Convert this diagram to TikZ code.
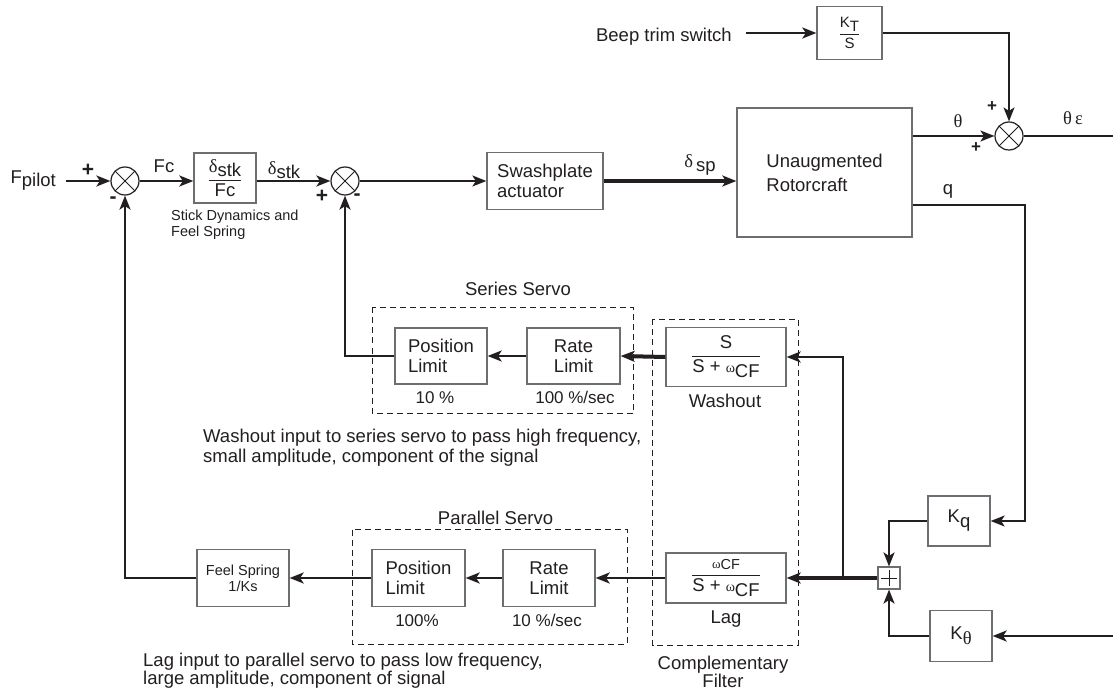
\documentclass[tikz,border=0pt]{standalone}
\usepackage{fontspec}
\usepackage{amsmath}
\setmainfont{Liberation Sans}
\newfontfamily\grk{Liberation Serif}
\usetikzlibrary{arrows.meta,calc}
\definecolor{ink}{HTML}{231F20}
\definecolor{boxgray}{HTML}{6D6E71}
\newcommand\szL{\fontsize{18.5}{20}\selectfont}
\newcommand\szM{\fontsize{17}{19}\selectfont}
\newcommand\szS{\fontsize{14.5}{16}\selectfont}
\newcommand\szG{\fontsize{14}{14}\selectfont}
\newcommand\myfr[2]{$\genfrac{}{}{1pt}{0}{\text{#1}}{\text{#2}}$}
\tikzset{
  box/.style={draw=boxgray, line width=1.3pt, inner sep=0pt, text=ink, font=\szL},
  sumx/.style={circle, draw=ink, line width=1.2pt, minimum size=28pt, inner sep=0pt,
    path picture={\draw[ink,line width=1pt] (path picture bounding box.north west) -- (path picture bounding box.south east)
      (path picture bounding box.south west) -- (path picture bounding box.north east);}},
  conn/.style={draw=ink, line width=2.2pt},
  fine/.style={draw=ink, line width=1.6pt},
  heavy/.style={draw=ink, line width=4pt},
  arr/.style={-{Stealth[length=14pt,width=11pt,inset=3.5pt]}},
  dbox/.style={draw=ink, line width=1pt, dash pattern=on 6pt off 4pt},
  lbl/.style={text=ink, font=\szL, inner sep=0pt},
  sgn/.style={text=ink, font=\fontsize{21}{21}\selectfont\bfseries, inner sep=0pt},
}
\begin{document}
\begin{tikzpicture}[x=1pt,y=-1pt]
\useasboundingbox[fill=white] (0,0) rectangle (1113,692);

% ---- main forward path ----
\node[lbl, anchor=east] (fp) at (56,181) {F\raisebox{-3pt}{pilot}};
\node[sumx] (s1) at (125,181) {};
\node[sgn] (p1) at (88,170) {+};
\node[sgn] (m1) at (113,200) {-};
\node[box, minimum width=62pt, minimum height=50pt] (stick) at (225,178) {\myfr{{\grk δ}\raisebox{-4pt}{stk}}{Fc}};
\node[lbl] (fc) at (164,166) {Fc};
\node[lbl] (dstk) at (284,170) {{\grk δ}\raisebox{-4pt}{stk}};
\node[lbl, font=\szS, align=left, anchor=north west] (sdyn) at (171,210) {Stick Dynamics and\\Feel Spring};
\node[sumx] (s2) at (345,181) {};
\node[sgn] (p2) at (322,196) {+};
\node[sgn] (m2) at (357,197) {-};
\node[box, minimum width=116pt, minimum height=57pt, align=left] (swash) at (545,181) {Swashplate\\actuator};
\node[lbl] (dsp) at (700,165) {{\grk δ}\,\raisebox{-4pt}{sp}};
\node[box, minimum width=175pt, minimum height=129pt, align=left, font=\fontsize{18.5}{24}\selectfont] (rotor) at (824.5,172.5) {Unaugmented\\Rotorcraft};

% ---- trim ----
\node[lbl, anchor=east] (beep) at (732,37) {Beep trim switch};
\node[box, minimum width=65pt, minimum height=53pt, font=\fontsize{15}{16}\selectfont] (kt) at (849.5,33) {\myfr{K\raisebox{-4pt}{T}}{S}};
\node[sumx] (s3) at (1009,136) {};
\node[lbl] (th) at (958,121) {\grk θ};
\node[sgn, font=\fontsize{17}{17}\selectfont\bfseries] (p3) at (992,107) {+};
\node[sgn, font=\fontsize{17}{17}\selectfont\bfseries] (p4) at (976,148) {+};
\node[lbl] (the) at (1073,118) {\grk θ\,ε};
\node[lbl] (ql) at (948,191) {q};

\coordinate (qc) at (1025,205);
\coordinate (qy) at (0,205);
\coordinate (eR1) at (1113,136);
\coordinate (eR2) at (1113,636);
\coordinate (jn) at (843,578);

% ---- feedback gains ----
\node[box, minimum width=62pt, minimum height=50pt] (kq) at (959,521) {K\raisebox{-5pt}{q}};
\node[box, minimum width=62pt, minimum height=51pt] (kth) at (961,636) {K\raisebox{-5pt}{\grk θ}};
\node[draw=boxgray, line width=1.1pt, minimum size=22pt, inner sep=0pt] (sb) at (889,578) {};
\draw[ink, line width=1pt] ($(sb.center)+(-8,0)$) -- ($(sb.center)+(8,0)$) ($(sb.center)+(0,-8)$) -- ($(sb.center)+(0,8)$);

% ---- complementary filter ----
\node[box, minimum width=120pt, minimum height=59pt] (wash) at (726,357) {\myfr{S}{S + {\grk\szG ω}\raisebox{-5pt}{CF}}};
\node[lbl, anchor=base] (washl) at (725,407) {Washout};
\node[box, minimum width=120pt, minimum height=50pt] (lag) at (726,578) {\myfr{{\grk\fontsize{13}{13}\selectfont ω}\raisebox{-1pt}{\fontsize{14.5}{14.5}\selectfont CF}}{S + {\grk\szG ω}\raisebox{-5pt}{CF}}};
\node[lbl, anchor=base] (lagl) at (726,623) {Lag};
\node[lbl, align=center, anchor=north, font=\fontsize{18.5}{17.5}\selectfont] (compl) at (723,656) {Complementary\\Filter};
\draw[dbox] (652.5,319.5) rectangle (798,645);

% ---- series servo ----
\node[lbl, anchor=base] (sst) at (518,296) {Series Servo};
\node[box, minimum width=92pt, minimum height=56pt, align=left] (spos) at (441,356) {Position\\Limit};
\node[box, minimum width=93pt, minimum height=56pt, align=left] (srate) at (573.5,356) {Rate\\Limit};
\node[lbl, anchor=base, font=\szM] (s10) at (435,403) {10 \%};
\node[lbl, anchor=base, font=\szM] (s100) at (575,403) {100 \%/sec};
\draw[dbox] (372.5,307.5) rectangle (633,413.5);
\node[lbl, align=left, anchor=north west, font=\fontsize{18.5}{20}\selectfont] (wnote) at (203,428.5) {Washout input to series servo to pass high frequency,\\small amplitude, component of the signal};

% ---- parallel servo ----
\node[lbl, anchor=base] (pst) at (495.5,524) {Parallel Servo};
\node[box, minimum width=93pt, minimum height=57pt, align=left] (ppos) at (418.5,578) {Position\\Limit};
\node[box, minimum width=92pt, minimum height=57pt, align=left] (prate) at (549,578) {Rate\\Limit};
\node[lbl, anchor=base, font=\szM] (p100) at (417,626) {100\%};
\node[lbl, anchor=base, font=\szM] (p10) at (547,626) {10 \%/sec};
\draw[dbox] (352.5,529.5) rectangle (627,644);
\node[box, minimum width=92pt, minimum height=57pt, align=center, font=\szS] (feel) at (243,578) {Feel Spring\\1/Ks};
\node[lbl, align=left, anchor=north west, font=\fontsize{18.5}{18}\selectfont] (lnote) at (143,652.5) {Lag input to parallel servo to pass low frequency,\\large amplitude, component of signal};

% ---- connectors ----
\draw[conn,arr] ($(fp.east)+(10,0)$) -- (s1.west);
\draw[conn,arr] (s1.east) -- (stick.west |- s1.east);
\draw[conn,arr] (stick.east |- s2.west) -- (s2.west);
\draw[fine,arr] (s2.east) -- (swash.west);
\draw[heavy,arr] (swash.east) -- (rotor.west |- swash.east);
\draw[fine,arr] (rotor.east |- s3.west) -- (s3.west);
\draw[fine] (s3.east) -- (eR1);
\draw[fine,arr] (kt.east) -| (s3.north);
\draw[conn,arr] ($(beep.east |- kt.west)+(14,0)$) -- (kt.west);
\draw[fine,arr] (rotor.east |- qy) -- (qc) |- (kq.east);
\draw[conn,arr] (kq.west) -| (sb.north);
\draw[conn,arr] (kth.west) -| (sb.south);
\draw[conn,arr] (eR2) -- (kth.east);
\draw[heavy,arr] (sb.west) -- (lag.east);
\draw[conn,arr] (jn) |- (wash.east);
\draw[heavy,arr] (wash.west) -- (srate.east);
\draw[conn,arr] (srate.west) -- (spos.east);
\draw[conn,arr] (spos.west) -| (s2.south);
\draw[conn,arr] (lag.west) -- (prate.east);
\draw[conn,arr] (prate.west) -- (ppos.east);
\draw[conn,arr] (ppos.west) -- (feel.east);
\draw[conn,arr] (feel.west) -| (s1.south);
\end{tikzpicture}
\end{document}
